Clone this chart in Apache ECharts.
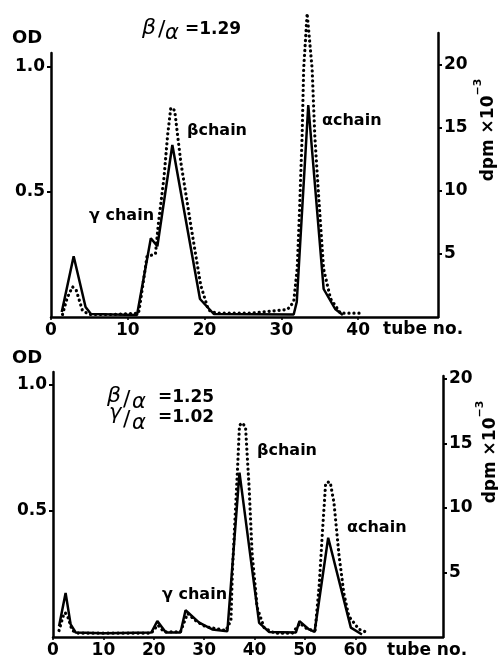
<!DOCTYPE html>
<html>
<head>
<meta charset="utf-8">
<script src="https://cdn.jsdelivr.net/npm/echarts@6/dist/echarts.min.js"></script>
<style>
html,body{margin:0;padding:0;background:#fff;}
#c{width:498px;height:663px;}
</style>
</head>
<body>
<div id="c"></div>
<script>
// ---- Top panel (tube no. vs OD / dpm x10^-3) ----
const topOdTube = [1.4, 2.95, 4.5, 5.2, 11.2, 13.0, 13.85, 15.8, 19.4, 21.2, 31.6, 32.0, 33.5, 35.5, 37.0, 38.0];
const topOd     = [0.02, 0.243, 0.04, 0.012, 0.008, 0.315, 0.283, 0.688, 0.072, 0.012, 0.01, 0.06, 0.848, 0.112, 0.032, 0.008];
const topDpmTube = [1.5, 2.1, 2.8, 3.3, 4.1, 5.0, 8, 11.4, 11.7, 12.5, 13.6, 14.0, 14.7, 15.2, 15.6, 16.1, 16.9, 18.2, 19.5, 20.5, 21.5, 26, 30.8, 31.6, 32.05, 32.4, 32.7, 32.9, 33.35, 34.0, 34.35, 34.9, 35.5, 36.4, 37.7, 40.7];
const topDpm     = [0.2, 1.5, 2.4, 2.1, 0.5, 0.2, 0.2, 0.3, 1.45, 4.8, 5.0, 7.5, 11.0, 14.5, 16.6, 16.4, 12.3, 7.3, 2.5, 0.55, 0.3, 0.3, 0.6, 1.2, 3.8, 9.1, 14.4, 19.7, 24.1, 19.7, 14.4, 9.1, 3.8, 1.45, 0.3, 0.3];

// ---- Bottom panel ----
const botOdTube = [1.2, 2.5, 3.5, 4.5, 10, 19.5, 20.7, 22.4, 25.3, 26.3, 29.0, 31.6, 34.6, 37.0, 40.9, 42.9, 48.2, 48.9, 50.8, 51.9, 54.6, 59.1, 61.3];
const botOd     = [0.043, 0.175, 0.05, 0.018, 0.015, 0.018, 0.063, 0.018, 0.018, 0.106, 0.057, 0.03, 0.023, 0.652, 0.056, 0.02, 0.018, 0.063, 0.03, 0.02, 0.394, 0.037, 0.01];
const botDpmTube = [1.2, 2.0, 2.4, 3.0, 3.8, 5, 12, 19.5, 20.8, 22, 25.3, 26.7, 28.5, 30.3, 34.3, 35.3, 35.6, 36.1, 36.6, 37.0, 37.5, 38.2, 38.9, 39.5, 40.5, 41.9, 44, 47.5, 49.0, 50.5, 52.0, 52.8, 53.4, 54.1, 54.5, 55.0, 55.75, 56.7, 57.7, 58.7, 60.7, 62.7];
const botDpm     = [0.5, 1.6, 1.9, 1.5, 0.5, 0.3, 0.3, 0.3, 0.93, 0.4, 0.4, 1.83, 1.2, 0.8, 0.5, 1.3, 5.2, 9.1, 12.9, 16.4, 16.6, 16.3, 11.7, 6.5, 2.3, 0.7, 0.3, 0.3, 1.06, 0.6, 0.5, 3.9, 7.8, 11.9, 12.0, 12.0, 10.4, 6.5, 3.4, 1.6, 0.6, 0.3];

// ---- Tick labels ----
const topTubeTicks = [0, 10, 20, 30, 40];
const botTubeTicks = [0, 10, 20, 30, 40, 50, 60];
const odTicks  = [0.5, 1.0];
const topDpmTicks = [5, 10, 15, 20];
const botDpmTicks = [5, 10, 15, 20];

const zip = (xs, ys) => xs.map((x, i) => [x, ys[i]]);
const FONT = '"DejaVu Sans", sans-serif';
const BLK = '#000';

function xAx(grid, max, ticks, show) {
  return {
    gridIndex: grid, type: 'value', min: 0, max: max, show: show,
    splitLine: {show: false},
    axisLine: {show: true, onZero: false, lineStyle: {color: BLK, width: 2.5}},
    axisTick: {show: true, customValues: ticks, length: 3, lineStyle: {color: BLK, width: 1.5}},
    axisLabel: {customValues: ticks, margin: 5, color: BLK, fontSize: 17, fontWeight: 'bold', fontFamily: FONT}
  };
}
function yAx(grid, max, ticks, pos, fmt) {
  return {
    gridIndex: grid, type: 'value', min: 0, max: max, position: pos,
    splitLine: {show: false},
    axisLine: {show: true, onZero: false, lineStyle: {color: BLK, width: 2.5}},
    axisTick: {show: true, customValues: ticks, length: 4, lineStyle: {color: BLK, width: 2}},
    axisLabel: {customValues: ticks, margin: 6, color: BLK, fontSize: 17, fontWeight: 'bold', fontFamily: FONT, formatter: fmt}
  };
}
const solid = {color: BLK, width: 2.5};
const dotted = {color: BLK, width: 3.2, type: [0.1, 4.9], cap: 'round'};

function txt(text, x, y, size, opts) {
  opts = opts || {};
  return {
    type: 'text', x: x, y: y, rotation: opts.rot || 0,
    style: {
      text: text, fill: BLK,
      font: (opts.italic ? 'italic ' : '') + (opts.weight || 'bold') + ' ' + size + 'px ' + FONT,
      align: opts.align || 'left', verticalAlign: 'middle',
      rich: opts.rich
    }
  };
}
const dpmRich = {
  n: {fontSize: 17, fontWeight: 'bold', fontFamily: FONT, lineHeight: 24, verticalAlign: 'bottom'},
  s: {fontSize: 11, fontWeight: 'bold', fontFamily: FONT, lineHeight: 24, verticalAlign: 'top'}
};

const chart = echarts.init(document.getElementById('c'), null, {renderer: 'canvas'});
chart.setOption({
  animation: false,
  backgroundColor: '#fff',
  grid: [
    {left: 51, top: 53, width: 387, height: 264},
    {left: 51, top: 33, width: 387, height: 284},
    {left: 53, top: 372, width: 390, height: 265},
    {left: 53, top: 376, width: 390, height: 261}
  ],
  xAxis: [
    xAx(0, 387 / 7.68, topTubeTicks, true),
    xAx(1, 387 / 7.68, topTubeTicks, false),
    xAx(2, 390 / 5.04, botTubeTicks, true),
    xAx(3, 390 / 5.04, botTubeTicks, false)
  ],
  yAxis: [
    yAx(0, 264 / 250, odTicks, 'left', v => v.toFixed(1)),
    yAx(1, 284 / 12.6, topDpmTicks, 'right', v => String(v)),
    yAx(2, 265 / 252, odTicks, 'left', v => v.toFixed(1)),
    yAx(3, 261 / 12.9, botDpmTicks, 'right', v => String(v))
  ],
  series: [
    {type: 'line', xAxisIndex: 0, yAxisIndex: 0, data: zip(topOdTube, topOd), symbol: 'none', lineStyle: solid, clip: false},
    {type: 'line', xAxisIndex: 1, yAxisIndex: 1, data: zip(topDpmTube, topDpm), symbol: 'none', lineStyle: dotted, clip: false},
    {type: 'line', xAxisIndex: 2, yAxisIndex: 2, data: zip(botOdTube, botOd), symbol: 'none', lineStyle: solid, clip: false},
    {type: 'line', xAxisIndex: 3, yAxisIndex: 3, data: zip(botDpmTube, botDpm), symbol: 'none', lineStyle: dotted, clip: false}
  ],
  graphic: [
    // top panel
    txt('OD', 12, 38, 18),
    txt('β', 142, 28, 22, {italic: true, weight: 'normal'}),
    txt('/', 158, 30, 22, {weight: 'normal'}),
    txt('α', 165, 34, 21, {italic: true, weight: 'normal'}),
    txt('=1.29', 185, 30, 17),
    txt('γ chain', 89, 216, 16),
    txt('βchain', 187, 131, 16),
    txt('αchain', 322, 121, 16),
    txt('tube no.', 383, 330, 17),
    txt('{n|dpm ×10}{s|−3}', 485, 130, 17, {rot: Math.PI / 2, align: 'center', rich: dpmRich}),
    // bottom panel
    txt('OD', 12, 358, 18),
    txt('β', 107, 396, 22, {italic: true, weight: 'normal'}),
    txt('/', 123, 400, 22, {weight: 'normal'}),
    txt('α', 132, 403, 21, {italic: true, weight: 'normal'}),
    txt('=1.25', 158, 398, 17),
    txt('γ', 109, 414, 21, {italic: true, weight: 'normal'}),
    txt('/', 123, 420, 22, {weight: 'normal'}),
    txt('α', 132, 424, 21, {italic: true, weight: 'normal'}),
    txt('=1.02', 158, 418, 17),
    txt('γ chain', 162, 595, 16),
    txt('βchain', 257, 451, 16),
    txt('αchain', 347, 528, 16),
    txt('tube no.', 387, 651, 17),
    txt('{n|dpm ×10}{s|−3}', 487, 452, 17, {rot: Math.PI / 2, align: 'center', rich: dpmRich})
  ]
});
</script>
</body>
</html>
